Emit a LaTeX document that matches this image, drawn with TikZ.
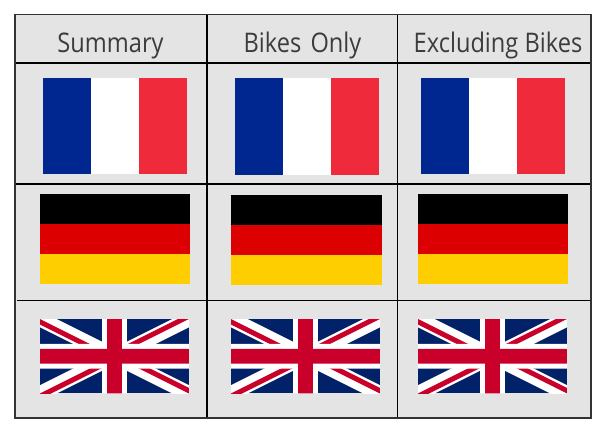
\documentclass[tikz,border=0pt]{standalone}
\usepackage{fontspec}
\setmainfont[FakeStretch=0.875]{Open Sans}
\definecolor{cellgray}{HTML}{E4E4E4}
\definecolor{frblue}{HTML}{00268F}
\definecolor{frred}{HTML}{EF2B3B}
\definecolor{degold}{HTML}{FFCE00}
\definecolor{dered}{HTML}{DD0000}
\definecolor{uknavy}{HTML}{012169}
\definecolor{ukred}{HTML}{C8002A}
\definecolor{headtext}{HTML}{3C3C3C}
\tikzset{
  gridline/.style={draw=black,line width=1.6pt},
  outerline/.style={draw=black!80,line width=1.8pt},
  header/.style={text=headtext,font=\fontsize{27}{30}\selectfont,inner sep=0pt,anchor=base},
}
\newcommand{\frflag}[4]{%
  \fill[frblue] (#1,#3) rectangle ({#1+(#2-#1)/3},#4);
  \fill[white] ({#1+(#2-#1)/3},#3) rectangle ({#1+2*(#2-#1)/3},#4);
  \fill[frred] ({#1+2*(#2-#1)/3},#3) rectangle (#2,#4);
}
\newcommand{\deflag}[4]{%
  \fill[black] (#1,#3) rectangle (#2,{#3+(#4-#3)/3});
  \fill[dered] (#1,{#3+(#4-#3)/3}) rectangle (#2,{#3+2*(#4-#3)/3});
  \fill[degold] (#1,{#3+2*(#4-#3)/3}) rectangle (#2,#4);
}
\newcommand{\ukflag}[2]{%
  \begin{scope}[shift={(#1,#2)},x=2.483pt,y=-2.483pt]
    \clip (0,0) rectangle (60,30);
    \fill[uknavy] (0,0) rectangle (60,30);
    \draw[white,line width=14.9pt] (0,0) -- (60,30) (60,0) -- (0,30);
    \fill[ukred] (0,0) -- (30,15) -- (30,17.24) -- (0,2.24) -- cycle;
    \fill[ukred] (60,0) -- (30,15) -- (30,12.76) -- (60,-2.24) -- cycle;
    \fill[ukred] (60,30) -- (30,15) -- (30,12.76) -- (60,27.76) -- cycle;
    \fill[ukred] (0,30) -- (30,15) -- (30,17.24) -- (0,32.24) -- cycle;
    \fill[white] (25,0) rectangle (35,30) (0,10) rectangle (60,20);
    \fill[ukred] (27,0) rectangle (33,30) (0,12) rectangle (60,18);
  \end{scope}
}
\begin{document}
\begin{tikzpicture}[x=1pt,y=-1pt]
\useasboundingbox (0,0) rectangle (605,433);
\fill[cellgray] (15,14.5) rectangle (591,418);
\frflag{43}{187}{78}{174}
\frflag{234.5}{379}{78}{174.5}
\frflag{421}{565}{78}{174}
\deflag{40}{190}{194}{284}
\deflag{231}{382}{195}{285}
\deflag{418}{568}{194}{284}
\ukflag{40}{319}
\ukflag{231}{319}
\ukflag{418}{319}
\draw[gridline] (207,14.5) -- (207,418);
\draw[gridline] (397.5,14.5) -- (397.5,418);
\draw[gridline] (15,63) -- (591,63);
\draw[gridline] (15,184) -- (591,184);
\draw[gridline] (17,300.5) -- (591,300.5);
\draw[outerline] (15,14.5) rectangle (591,418);
\node[header] (summary) at (110.5,53) {Summary};
\node[header] (bikes) at (302.5,53) {Bikes\hspace{3pt} Only};
\node[header] (excl) at (498,53) {Excluding Bikes};
\end{tikzpicture}
\end{document}
